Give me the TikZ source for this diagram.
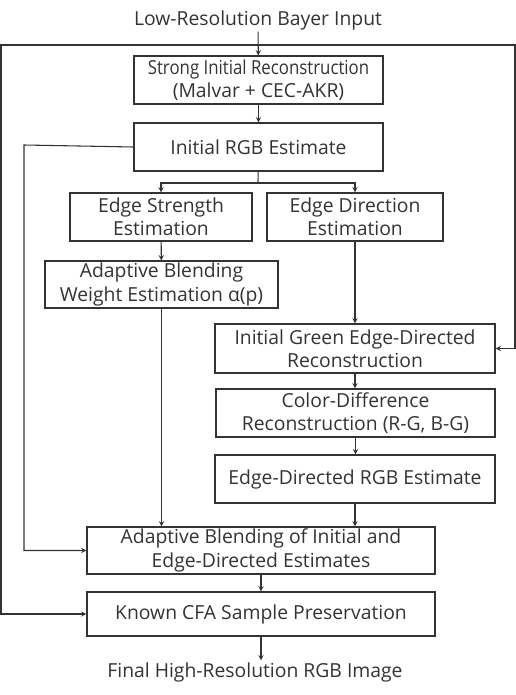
\documentclass[tikz,border=0pt]{standalone}
\usepackage{fontspec}
\setmainfont{Open Sans}
\begin{document}
\begin{tikzpicture}[x=0.75pt, y=-0.75pt, >=stealth, line width=0.8pt, color=black!80,
	every node/.style={font=\fontsize{14.5}{17.5}\selectfont, align=center, inner sep=1pt},
	blk/.style={draw, inner sep=0pt, minimum height=36pt}]
	\useasboundingbox (0,0) rectangle (516,695);

	\node (in) at (258,20) {Low-Resolution Bayer Input};
	\node[blk, minimum width=186.75pt] (strong) at (258.5,80) {{\addfontfeatures{FakeStretch=0.87}Strong Initial Reconstruction}\\(Malvar + CEC-AKR)};
	\node[blk, minimum width=186.75pt] (rgb) at (258.5,147) {Initial RGB Estimate};
	\node[blk, minimum width=136.5pt] (strength) at (161,217) {Edge Strength\\Estimation};
	\node[blk, minimum width=132pt] (direction) at (355,217) {Edge Direction\\Estimation};
	\node[blk, minimum width=174.75pt, minimum height=35.25pt] (weight) at (161.5,284.5) {Adaptive Blending\\Weight Estimation α(p)};
	\node[blk, minimum width=210pt, minimum height=36.75pt] (green) at (355,348.5) {Initial Green Edge-Directed\\Reconstruction};
	\node[blk, minimum width=209.25pt] (colordiff) at (355.5,413) {Color-Difference\\Reconstruction (R-G, B-G)};
	\node[blk, minimum width=210pt] (edgergb) at (355,479) {Edge-Directed RGB Estimate};
	\node[blk, minimum width=261pt, minimum height=35.25pt] (blend) at (261,550.5) {Adaptive Blending of Initial and\\Edge-Directed Estimates};
	\node[blk, minimum width=261pt, minimum height=33pt] (known) at (261,614) {Known CFA Sample Preservation};
	\node (out) at (255,672) {Final High-Resolution RGB Image};

	\coordinate (split) at (258,45);
	\coordinate (fork) at (258,183);

	\draw[->] (in) -- (strong);
	\draw[->] (split) -- (1,45) |- (known.west);
	\draw[->] (split) -- (515,45) |- (green.east);
	\draw[->] (strong) -- (rgb);
	\draw (rgb) -- (fork);
	\draw[->] (fork) -| (strength.north);
	\draw[->] (fork) -| (direction.north);
	\draw[->] (rgb.west) -- (24,145) |- (blend.west);
	\draw[->] (strength) -- (weight);
	\draw[->] (weight.south) -- (weight.south |- blend.north);
	\draw[->] (direction) -- (direction |- green.north);
	\draw[->] (green) -- (green |- colordiff.north);
	\draw[->] (colordiff) -- (colordiff |- edgergb.north);
	\draw[->] (edgergb) -- (edgergb |- blend.north);
	\draw[->] (blend) -- (known);
	\draw[->] (known.south) -- (known.south |- out.north);
\end{tikzpicture}
\end{document}
